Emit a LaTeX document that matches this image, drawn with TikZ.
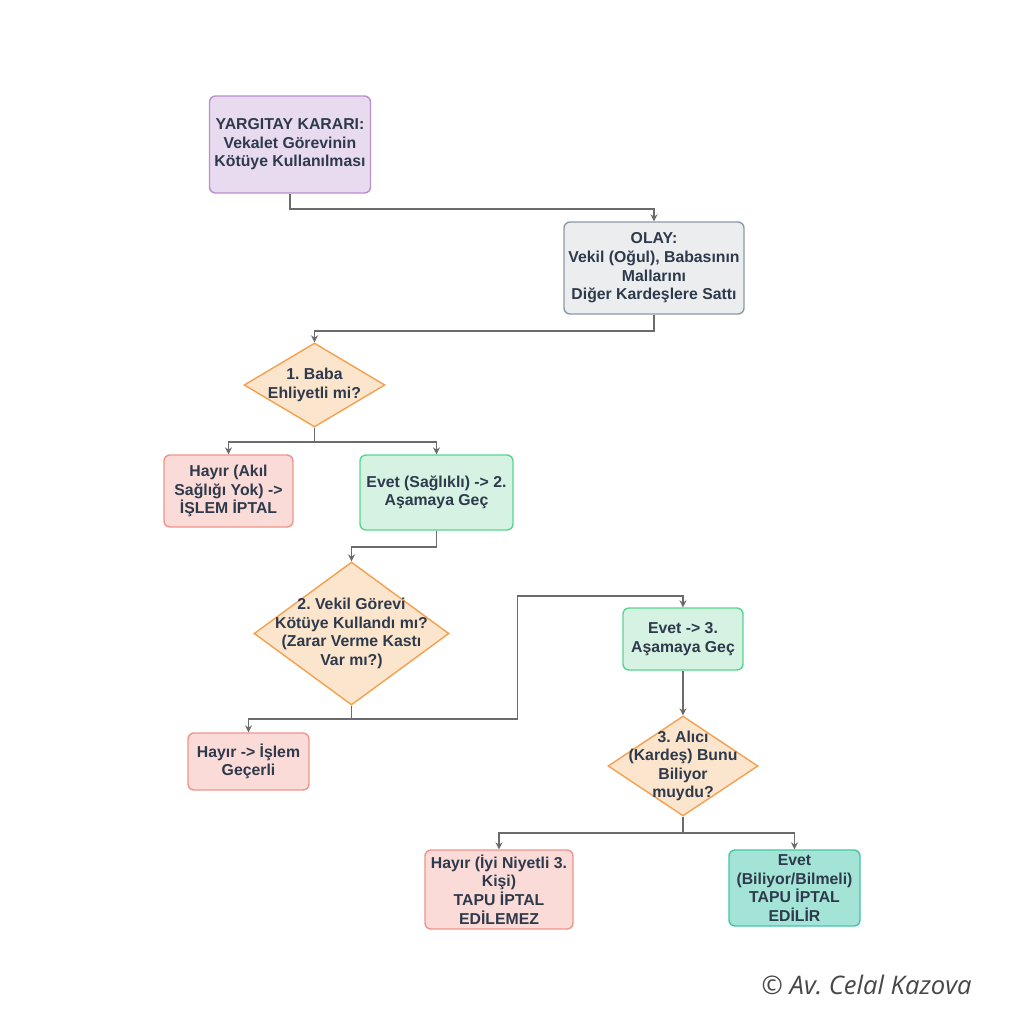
\documentclass[tikz,border=0pt]{standalone}
\usepackage{fontspec}
\setmainfont{Liberation Sans}
\newfontfamily\signfont{Open Sans}
\usepackage{xcolor}
\usetikzlibrary{arrows.meta,shapes.geometric}
\frenchspacing
\definecolor{inkc}{HTML}{2E3A4B}
\definecolor{linec}{HTML}{6B6B6B}
\tikzset{
  box/.style={draw,rounded corners=3pt,line width=0.7pt,align=center,inner sep=1pt,
    font=\bfseries\fontsize{7.9}{9.3}\selectfont,text=inkc},
  decision/.style={draw,diamond,line width=0.7pt,inner sep=0pt,fill=peachf,draw=peachd},
  dtext/.style={align=center,inner sep=0pt,font=\bfseries\fontsize{7.9}{9.3}\selectfont,text=inkc},
  flow/.style={draw=linec,line width=0.8pt,-{Stealth[length=3.5pt,width=3.5pt]}}
}
\definecolor{purpf}{HTML}{E8DAEF}\definecolor{purpd}{HTML}{BB8FCE}
\definecolor{greyf}{HTML}{EBEDEF}\definecolor{greyd}{HTML}{8D99A6}
\definecolor{peachf}{HTML}{FCE5CD}\definecolor{peachd}{HTML}{F5A04E}
\definecolor{pinkf}{HTML}{FADBD8}\definecolor{pinkd}{HTML}{F1948A}
\definecolor{greenf}{HTML}{D5F2E3}\definecolor{greend}{HTML}{58D68D}
\definecolor{tealf}{HTML}{A3E4D7}\definecolor{teald}{HTML}{45C4A8}

\begin{document}
\begin{tikzpicture}[x=0.5pt,y=0.5pt]
    \useasboundingbox[fill=white] (0,0) rectangle (1024,-1024);

    % Top: ruling and case
    \node[box,fill=purpf,draw=purpd,minimum width=80.5pt,minimum height=48.5pt] (yk) at (290,-144.5)
        {YARGITAY KARARI:\\Vekalet Görevinin\\Kötüye Kullanılması};
    \node[box,fill=greyf,draw=greyd,minimum width=90pt,minimum height=46pt] (olay) at (654,-268)
        {OLAY:\\Vekil (Oğul), Babasının\\Mallarını\\Diğer Kardeşlere Sattı};

    % Step 1
    \node[decision,minimum width=70.5pt,minimum height=42pt] (d1) at (314.5,-385) {};
    \node[dtext] (d1t) at (d1) {1. Baba\\Ehliyetli mi?};
    \node[box,fill=pinkf,draw=pinkd,minimum width=64.5pt,minimum height=36pt] (h1) at (228.5,-491)
        {Hayır (Akıl\\Sağlığı Yok) ->\\İŞLEM İPTAL};
    \node[box,fill=greenf,draw=greend,minimum width=76.5pt,minimum height=37.5pt] (e1) at (436.5,-492.5)
        {Evet (Sağlıklı) -> 2.\\Aşamaya Geç};

    % Step 2
    \node[decision,minimum width=97.5pt,minimum height=71.5pt] (d2) at (351.5,-633.5) {};
    \node[dtext] (d2t) at (d2) {2. Vekil Görevi\\Kötüye Kullandı mı?\\(Zarar Verme Kastı\\Var mı?)};
    \node[box,fill=pinkf,draw=pinkd,minimum width=60.5pt,minimum height=28.5pt] (h2) at (248.5,-761.5)
        {Hayır -> İşlem\\Geçerli};
    \node[box,fill=greenf,draw=greend,minimum width=60pt,minimum height=31pt] (e2) at (683,-639)
        {Evet -> 3.\\Aşamaya Geç};

    % Step 3
    \node[decision,minimum width=75pt,minimum height=50pt] (d3) at (683,-766) {};
    \node[dtext] (d3t) at (d3) {3. Alıcı\\(Kardeş) Bunu\\Biliyor\\muydu?};
    \node[box,fill=pinkf,draw=pinkd,minimum width=74pt,minimum height=39.5pt] (h3) at (499,-889.5)
        {Hayır (İyi Niyetli 3.\\Kişi)\\TAPU İPTAL\\EDİLEMEZ};
    \node[box,fill=tealf,draw=teald,minimum width=65.5pt,minimum height=38pt] (e3) at (794.5,-888)
        {Evet\\(Biliyor/Bilmeli)\\TAPU İPTAL\\EDİLİR};

    % Connectors
    \draw[flow] (yk.south) -- ++(0,-15) -| (olay.north);
    \draw[flow] (olay.south) -- ++(0,-16) -| (d1.north);
    \draw[flow] (d1.south) -- ++(0,-14) -| (h1.north);
    \draw[flow] (d1.south) -- ++(0,-14) -| (e1.north);
    \draw[flow] (e1.south) -- ++(0,-16) -| (d2.north);
    \draw[flow] (d2.south) -- ++(0,-13) -| (h2.north);
    \draw[flow] (d2.south) -- ++(0,-13) -| ++(166,123) -| (e2.north);
    \draw[flow] (e2.south) -- (d3.north);
    \draw[flow] (d3.south) -- ++(0,-16) -| (h3.north);
    \draw[flow] (d3.south) -- ++(0,-16) -| (e3.north);

    % Signature
    \node[anchor=east,inner sep=0pt,text=black!72,font=\signfont\itshape\fontsize{12.8}{15}\selectfont] (sign) at (972,-985)
        {© Av. Celal Kazova};
\end{tikzpicture}
\end{document}
